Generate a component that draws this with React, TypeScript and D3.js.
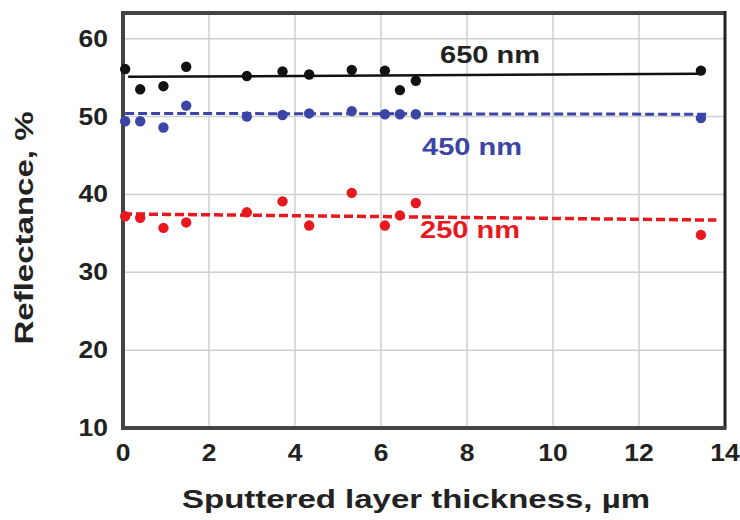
import React from "react";
import * as d3 from "d3";

const thickness = [0.05, 0.4, 0.94, 1.47, 2.88, 3.71, 4.33, 5.32, 6.09, 6.44, 6.81, 13.44];
const r650 = [56.1, 53.5, 53.9, 56.4, 55.2, 55.8, 55.4, 56.0, 55.9, 53.4, 54.6, 55.9];
const r450 = [49.4, 49.4, 48.6, 51.4, 50.0, 50.2, 50.4, 50.7, 50.3, 50.3, 50.3, 49.8];
const r250 = [37.2, 37.0, 35.7, 36.4, 37.7, 39.1, 36.0, 40.2, 36.0, 37.3, 38.9, 34.8];

const fit650X = [0.12, 13.44];
const fit650Y = [55.1, 55.5];
const fit450X = [0.05, 13.6];
const fit450Y = [50.4, 50.3];
const fit250X = [0.0, 13.8];
const fit250Y = [37.5, 36.7];

const xTicks = [0, 2, 4, 6, 8, 10, 12, 14];
const yTicks = [10, 20, 30, 40, 50, 60];
const labels = ["650 nm", "450 nm", "250 nm"];

const W = 740;
const H = 520;
const FONT = "'Liberation Sans', Arial, sans-serif";

export default function App() {
  const x = d3.scaleLinear().domain([0, 14]).range([123, 725]);
  const y = d3.scaleLinear().domain([10, 63.3]).range([428, 13]);
  const line = d3
    .line<[number, number]>()
    .x((d) => x(d[0]))
    .y((d) => y(d[1]));
  const fitPts = (xs: number[], ys: number[]) =>
    xs.map((v, i) => [v, ys[i]] as [number, number]);

  const series = [
    { vals: r650, color: "#111111", fx: fit650X, fy: fit650Y, dash: undefined, w: 2.5 },
    { vals: r450, color: "#3b45a6", fx: fit450X, fy: fit450Y, dash: "9,4", w: 3 },
    { vals: r250, color: "#e8181f", fx: fit250X, fy: fit250Y, dash: "9,4", w: 3.5 },
  ];
  const labelPos = [
    { x: 490, y: 63, color: "#222" },
    { x: 472, y: 155, color: "#3b45a6" },
    { x: 470, y: 238, color: "#e8181f" },
  ];

  const [x0, x1] = x.range();
  const [y0, y1] = y.range();

  return (
    <svg width={W} height={H} style={{ display: "block", position: "absolute", left: 0, top: 0 }} fontFamily={FONT} fontWeight="bold">
      <rect width={W} height={H} fill="#fff" />
      {xTicks.slice(1, -1).map((t) => (
        <line key={"gx" + t} x1={x(t)} x2={x(t)} y1={y1} y2={y0} stroke="#cfcfcf" strokeWidth={1.5} />
      ))}
      {yTicks.slice(1).map((t) => (
        <line key={"gy" + t} x1={x0} x2={x1} y1={y(t)} y2={y(t)} stroke="#cfcfcf" strokeWidth={1.5} />
      ))}
      {/* frame */}
      <line x1={x0} x2={x1} y1={y1} y2={y1} stroke="#444" strokeWidth={4} />
      <line x1={x1} x2={x1} y1={y1 - 2} y2={y0} stroke="#222" strokeWidth={3} />
      <line x1={x0} x2={x0} y1={y1 - 2} y2={y0 + 2} stroke="#444" strokeWidth={4} />
      <line x1={x0 - 2} x2={x1 + 1.5} y1={y0} y2={y0} stroke="#444" strokeWidth={4} />

      {series.map((s, i) => (
        <g key={"s" + i}>
          <path d={line(fitPts(s.fx, s.fy)) || ""} stroke={s.color} strokeWidth={s.w} strokeDasharray={s.dash} fill="none" />
          {s.vals.map((v, j) => (
            <circle key={j} cx={x(thickness[j])} cy={y(v)} r={5.2} fill={s.color} />
          ))}
        </g>
      ))}

      {labels.map((l, i) => (
        <text key={l} x={labelPos[i].x} y={labelPos[i].y} fill={labelPos[i].color} fontSize={24} textAnchor="middle" textLength={100} lengthAdjust="spacingAndGlyphs">
          {l}
        </text>
      ))}

      {xTicks.map((t) => (
        <g key={"xt" + t} transform={`translate(${x(t)},461) scale(1.15,1)`}>
          <text fontSize={23} textAnchor="middle" fill="#222">{t}</text>
        </g>
      ))}
      {yTicks.map((t) => (
        <g key={"yt" + t} transform={`translate(108,${y(t) + 8}) scale(1.15,1)`}>
          <text fontSize={23} textAnchor="end" fill="#222">{t}</text>
        </g>
      ))}

      <text x={416} y={508} fontSize={25} textAnchor="middle" fill="#222" textLength={468} lengthAdjust="spacingAndGlyphs">
        Sputtered layer thickness, µm
      </text>
      <text transform="translate(33,228) rotate(-90)" fontSize={25} textAnchor="middle" fill="#222" textLength={233} lengthAdjust="spacingAndGlyphs">
        Reflectance, %
      </text>
    </svg>
  );
}
